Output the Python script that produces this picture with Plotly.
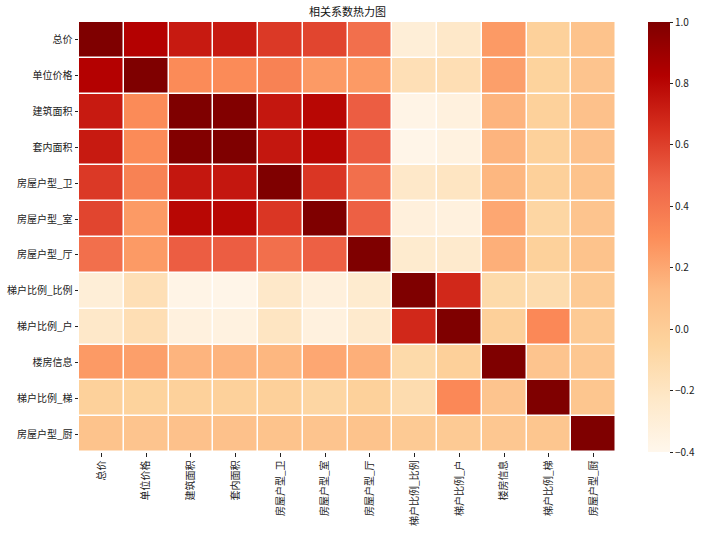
import plotly.graph_objects as go

labels = ["总价", "单位价格", "建筑面积", "套内面积", "房屋户型_卫", "房屋户型_室",
          "房屋户型_厅", "梯户比例_比例", "梯户比例_户", "楼房信息", "梯户比例_梯", "房屋户型_厨"]

r_total      = [1.00, 0.82, 0.73, 0.73, 0.62, 0.58, 0.43, -0.30, -0.23, 0.25, -0.03, 0.07]
r_unitprice  = [0.82, 1.00, 0.31, 0.31, 0.35, 0.25, 0.25, -0.15, -0.14, 0.23, -0.04, 0.06]
r_buildarea  = [0.73, 0.31, 1.00, 0.99, 0.74, 0.80, 0.50, -0.37, -0.33, 0.15, -0.03, 0.08]
r_innerarea  = [0.73, 0.31, 0.99, 1.00, 0.74, 0.80, 0.50, -0.38, -0.34, 0.15, -0.03, 0.08]
r_bath       = [0.62, 0.35, 0.74, 0.74, 1.00, 0.63, 0.43, -0.23, -0.20, 0.14, -0.02, 0.07]
r_room       = [0.58, 0.25, 0.80, 0.80, 0.63, 1.00, 0.49, -0.32, -0.33, 0.20, -0.07, 0.06]
r_hall       = [0.43, 0.25, 0.50, 0.50, 0.43, 0.49, 1.00, -0.26, -0.25, 0.17, -0.03, 0.07]
r_ratio      = [-0.30, -0.15, -0.37, -0.38, -0.23, -0.32, -0.26, 1.00, 0.68, -0.10, -0.12, 0.02]
r_households = [-0.23, -0.14, -0.33, -0.34, -0.20, -0.33, -0.25, 0.68, 1.00, -0.02, 0.32, 0.02]
r_floorinfo  = [0.25, 0.23, 0.15, 0.15, 0.14, 0.20, 0.17, -0.10, -0.02, 1.00, 0.06, 0.04]
r_elevator   = [-0.03, -0.04, -0.03, -0.03, -0.02, -0.07, -0.03, -0.12, 0.32, 0.06, 1.00, 0.05]
r_kitchen    = [0.07, 0.06, 0.08, 0.08, 0.07, 0.06, 0.07, 0.02, 0.02, 0.04, 0.05, 1.00]

matrix = [r_total, r_unitprice, r_buildarea, r_innerarea, r_bath, r_room, r_hall,
          r_ratio, r_households, r_floorinfo, r_elevator, r_kitchen]

cbar_ticks = [-0.4, -0.2, 0.0, 0.2, 0.4, 0.6, 0.8, 1.0]

orrd = ["#fff7ec", "#fee8c8", "#fdd49e", "#fdbb84", "#fc8d59",
        "#ef6548", "#d7301f", "#b30000", "#7f0000"]
colorscale = [[i / (len(orrd) - 1), c] for i, c in enumerate(orrd)]

font = "Noto Sans CJK SC"
W, H = 704, 536
L, R, T, B = 79, 88, 22, 84

fig = go.Figure(go.Heatmap(
    z=matrix, x=labels, y=labels,
    zmin=-0.4, zmax=1.0, colorscale=colorscale,
    xgap=1.5, ygap=1.5,
    colorbar=dict(
        x=(648 - L) / (W - L - R), xanchor="left", xref="paper",
        y=0.5, yanchor="middle", len=1.0, lenmode="fraction",
        xpad=0, ypad=0,
        thickness=22, outlinewidth=0,
        tickvals=cbar_ticks, tickformat=".1f",
        ticks="outside", ticklen=3.5, tickcolor="#222", tickwidth=0.8,
        tickfont=dict(family=font, size=10, color="#222"),
    ),
))

fig.update_layout(
    width=W, height=H,
    margin=dict(l=L, r=R, t=T, b=B, autoexpand=False),
    paper_bgcolor="white", plot_bgcolor="white",
    title=dict(text="相关系数热力图", x=(L + (W - L - R) / 2) / W, xanchor="center",
               y=1 - 12 / H, yanchor="middle",
               font=dict(family=font, size=11, color="#111")),
    font=dict(family=font, size=10, color="#222"),
)
fig.update_xaxes(tickangle=-90, ticks="outside", ticklen=3.5, tickcolor="#222",
                 tickwidth=0.8, showgrid=False, zeroline=False, automargin=False,
                 tickfont=dict(family=font, size=10, color="#222"))
fig.update_yaxes(autorange="reversed", ticks="outside", ticklen=3.5, tickcolor="#222",
                 tickwidth=0.8, showgrid=False, zeroline=False, automargin=False,
                 tickfont=dict(family=font, size=10, color="#222"))

fig.write_html("out.html")
